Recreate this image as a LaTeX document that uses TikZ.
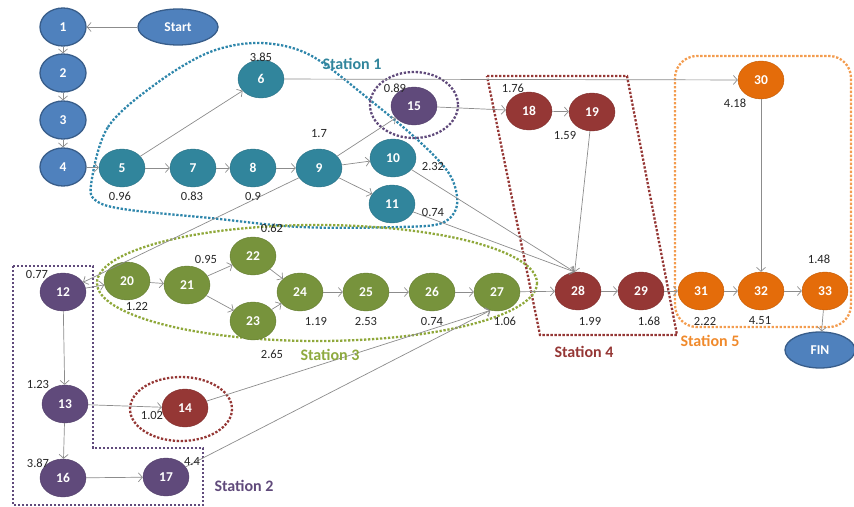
\documentclass[tikz,border=0pt]{standalone}
\usepackage{fontspec}
\setmainfont{Carlito}
\usetikzlibrary{arrows.meta,shapes.geometric}
\definecolor{cblue}{HTML}{4F81BD}
\definecolor{cblueD}{HTML}{385D8A}
\definecolor{cteal}{HTML}{31859C}
\definecolor{cpurple}{HTML}{604A7B}
\definecolor{cred}{HTML}{953735}
\definecolor{cgreen}{HTML}{77933C}
\definecolor{corange}{HTML}{E46C0A}
\definecolor{cgray}{HTML}{8C8C8C}
\definecolor{ctext}{HTML}{262626}
\definecolor{bteal}{HTML}{2E86AB}
\definecolor{bgreen}{HTML}{8FA83A}
\definecolor{borange}{HTML}{F39C4F}
\definecolor{sgreen}{HTML}{8EAA3F}
\definecolor{sorange}{HTML}{F08A2C}
\begin{document}
\begin{tikzpicture}[x=1pt,y=-1pt,
 nd/.style={ellipse, minimum width=46pt, minimum height=38pt, inner sep=0pt, text=white, font=\fontsize{13.5}{13.5}\selectfont\bfseries},
 bn/.style={nd, fill=cblue, draw=cblueD, line width=1.3pt},
 tn/.style={nd, fill=cteal, draw=cteal!85!black, line width=0.4pt},
 pn/.style={nd, fill=cpurple, draw=cpurple!85!black, line width=0.4pt},
 rn/.style={nd, fill=cred, draw=cred!85!black, line width=0.4pt},
 gn/.style={nd, fill=cgreen, draw=cgreen!85!black, line width=0.4pt},
 on/.style={nd, fill=corange, draw=corange!85!black, line width=0.4pt},
 arr/.style={draw=cgray, line width=0.7pt, -{Straight Barb[length=4pt,width=9pt]}},
 lbl/.style={font=\fontsize{12.5}{13}\selectfont, text=ctext, inner sep=0pt},
 st/.style={font=\fontsize{16}{16}\selectfont\bfseries, inner sep=0pt},
 bd/.style={line width=2.3pt, dash pattern=on 2.3pt off 1.7pt},
]
\useasboundingbox (0,0) rectangle (854,506);
% station boundaries
\draw[bd, draw=bteal] plot[smooth cycle, tension=0.55] coordinates {(91,185) (108,127) (157,83) (210,52) (260,43) (310,55) (370,100) (420,142) (450,175) (457,205) (442,223) (400,227) (300,227) (210,218) (130,210) (98,202)};
\draw[bd, draw=cpurple] (414,105) ellipse [x radius=44, y radius=33];
\draw[bd, draw=cred] (487,76) -- (627,76) -- (677,335) -- (540,335) -- cycle;
\draw[bd, draw=borange, rounded corners=22pt] (675,56) rectangle (851,327);
\draw[bd, draw=cpurple] (13,266) -- (93,266) -- (93,448) -- (203,448) -- (203,505) -- (13,505) -- cycle;
\draw[bd, draw=bgreen] (317,283) ellipse [x radius=220, y radius=58];
\draw[bd, draw=cred] (181,409) ellipse [x radius=51, y radius=32];
% nodes
\node[bn] (n1) at (63,27) {1};
\node[bn, minimum width=80pt, minimum height=36pt] (start) at (178,27) {Start};
\node[bn] (n2) at (63,73) {2};
\node[bn] (n3) at (63,120) {3};
\node[bn] (n4) at (63,167) {4};
\node[tn] (n5) at (122,168) {5};
\node[tn] (n7) at (193,168) {7};
\node[tn] (n8) at (253,168) {8};
\node[tn] (n9) at (319,168) {9};
\node[tn] (n6) at (261,79) {6};
\node[tn] (n10) at (393,158) {10};
\node[tn] (n11) at (392,204) {11};
\node[pn] (n15) at (414,106) {15};
\node[rn] (n18) at (529,111) {18};
\node[rn] (n19) at (592,112) {19};
\node[on] (n30) at (761,80) {30};
\node[pn] (n12) at (63,292) {12};
\node[gn] (n20) at (127,281) {20};
\node[gn] (n21) at (187,285) {21};
\node[gn] (n22) at (253,256) {22};
\node[gn] (n23) at (253,321) {23};
\node[gn] (n24) at (300,292) {24};
\node[gn] (n25) at (366,292) {25};
\node[gn] (n26) at (432,292) {26};
\node[gn] (n27) at (497,292) {27};
\node[rn] (n28) at (578,291) {28};
\node[rn] (n29) at (641,291) {29};
\node[on] (n31) at (701,291) {31};
\node[on] (n32) at (761,291) {32};
\node[on] (n33) at (825,291) {33};
\node[bn, minimum width=70pt, minimum height=36pt] (fin) at (820,350) {FIN};
\node[pn] (n13) at (65,404) {13};
\node[rn] (n14) at (185,408) {14};
\node[pn] (n16) at (63,478) {16};
\node[pn] (n17) at (166,477) {17};
% edges
\draw[arr] (start) -- (n1);
\draw[arr] (n1) -- (n2);
\draw[arr] (n2) -- (n3);
\draw[arr] (n3) -- (n4);
\draw[arr] (n4) -- (n5);
\draw[arr] (n5) -- (n6);
\draw[arr] (n5) -- (n7);
\draw[arr] (n7) -- (n8);
\draw[arr] (n8) -- (n9);
\draw[arr] (n9) -- (n15);
\draw[arr] (n9) -- (n10);
\draw[arr] (n9) -- (n11);
\draw[arr] (n6) -- (n30);
\draw[arr] (n15) -- (n18);
\draw[arr] (n18) -- (n19);
\draw[arr] (n19) -- (n28.100);
\draw[arr] (n10) -- (n28.100);
\draw[arr] (n11) -- (n28.100);
\draw[arr] (n27) -- (n28);
\draw[arr] (n28) -- (n29);
\draw[arr] (n29) -- (n31);
\draw[arr] (n31) -- (n32);
\draw[arr] (n30) -- (n32);
\draw[arr] (n32) -- (n33);
\draw[arr] (n33) -- (fin);
\draw[arr] (n9) -- (n12);
\draw[arr] (n12) -- (n20);
\draw[arr] (n20) -- (n21);
\draw[arr] (n21) -- (n22);
\draw[arr] (n21) -- (n23);
\draw[arr] (n22) -- (n24);
\draw[arr] (n23) -- (n24);
\draw[arr] (n24) -- (n25);
\draw[arr] (n25) -- (n26);
\draw[arr] (n26) -- (n27);
\draw[arr] (n12) -- (n13);
\draw[arr] (n13) -- (n14);
\draw[arr] (n13) -- (n16);
\draw[arr] (n16) -- (n17);
\draw[arr] (n14) -- (n27.250);
\draw[arr] (n17) -- (n27.250);
% duration labels
\node[lbl] (d6) at (261,57) {3.85};
\node[lbl] (d5) at (120,196) {0.96};
\node[lbl] (d7) at (192,196) {0.83};
\node[lbl] (d8) at (253,196) {0.9};
\node[lbl] (d9) at (319,134) {1.7};
\node[lbl] (d15) at (395,88) {0.89};
\node[lbl] (d10) at (433,166) {2.32};
\node[lbl] (d11) at (433,212) {0.74};
\node[lbl] (d18) at (513,88) {1.76};
\node[lbl] (d19) at (565,135) {1.59};
\node[lbl] (d30) at (735,103) {4.18};
\node[lbl] (d22) at (272,228) {0.62};
\node[lbl] (d21) at (206,259) {0.95};
\node[lbl] (d20) at (137,306) {1.22};
\node[lbl] (d23) at (272,354) {2.65};
\node[lbl] (d24) at (316,321) {1.19};
\node[lbl] (d25) at (366,321) {2.53};
\node[lbl] (d26) at (432,321) {0.74};
\node[lbl] (d27) at (505,321) {1.06};
\node[lbl] (d28) at (590,321) {1.99};
\node[lbl] (d29) at (649,321) {1.68};
\node[lbl] (d31) at (705,321) {2.22};
\node[lbl] (d32) at (760,321) {4.51};
\node[lbl] (d33) at (819,259) {1.48};
\node[lbl] (d12) at (37,274) {0.77};
\node[lbl] (d13) at (38,384) {1.23};
\node[lbl] (d14) at (152,415) {1.02};
\node[lbl] (d16) at (38,463) {3.87};
\node[lbl] (d17) at (192,462) {4.4};
% station labels
\node[st, text=cteal] (s1) at (352,64) {Station 1};
\node[st, text=cpurple] (s2) at (244,486) {Station 2};
\node[st, text=sgreen] (s3) at (330,355) {Station 3};
\node[st, text=cred] (s4) at (584,352) {Station 4};
\node[st, text=sorange] (s5) at (710,341) {Station 5};
\end{tikzpicture}
\end{document}
